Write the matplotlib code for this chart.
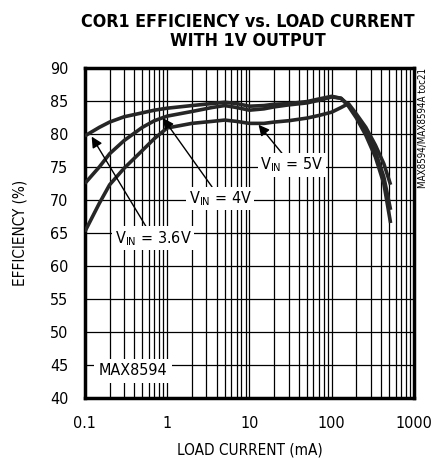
import matplotlib
matplotlib.use("Agg")
import matplotlib.pyplot as plt
from matplotlib.ticker import FixedLocator, LogLocator, NullFormatter

plt.rcParams['font.family'] = ['DejaVu Sans']
plt.rcParams['font.stretch'] = 'condensed'
plt.rcParams['mathtext.fontset'] = 'custom'
plt.rcParams['mathtext.rm'] = 'DejaVu Sans:stretch=condensed'

load_ma = [0.1, 0.15, 0.2, 0.3, 0.5, 0.7, 1, 2, 3.5, 5, 7, 10, 15, 20, 30, 50,
           70, 100, 130, 160, 200, 260, 340, 430, 520]
eff_36v = [79.7, 81.0, 81.8, 82.6, 83.2, 83.6, 83.9, 84.3, 84.6, 84.8, 84.6, 84.2,
           84.3, 84.5, 84.6, 84.9, 85.3, 85.7, 85.4, 84.2, 82.4, 79.8, 76.5, 72.5, 66.5]
eff_4v = [72.5, 75.0, 77.0, 79.0, 81.0, 82.0, 82.7, 83.4, 84.0, 84.3, 84.0, 83.6,
          83.8, 84.1, 84.4, 84.7, 85.1, 85.6, 85.4, 84.4, 82.7, 80.2, 77.3, 73.5, 68.5]
eff_5v = [65.2, 69.5, 72.3, 74.8, 77.5, 79.3, 80.9, 81.6, 81.9, 82.1, 81.9, 81.6,
          81.6, 81.8, 82.0, 82.4, 82.8, 83.3, 84.0, 84.6, 83.0, 81.0, 78.3, 75.5, 72.3]

x_ticks = [0.1, 1, 10, 100, 1000]
x_tick_labels = ['0.1', '1', '10', '100', '1000']
y_ticks = [40, 45, 50, 55, 60, 65, 70, 75, 80, 85, 90]

fig = plt.figure(figsize=(4.33, 4.59), dpi=100)
ax = fig.add_axes([0.196, 0.133, 0.760, 0.719])

line_color = '#262626'
for y in (eff_36v, eff_4v, eff_5v):
    ax.plot(load_ma, y, color=line_color, lw=2.6, solid_capstyle='butt', zorder=3)

ax.set_xscale('log')
ax.set_xlim(0.1, 1000)
ax.set_ylim(40, 90)
ax.xaxis.set_major_locator(FixedLocator(x_ticks))
ax.set_xticklabels(x_tick_labels)
ax.xaxis.set_minor_locator(LogLocator(base=10, subs=range(2, 10)))
ax.xaxis.set_minor_formatter(NullFormatter())
ax.set_yticks(y_ticks)
ax.grid(True, which='both', color='black', lw=0.9)
ax.tick_params(which='both', length=0, labelsize=11.5)
ax.tick_params(axis='y', pad=12)
ax.tick_params(axis='x', pad=13)
for s in ax.spines.values():
    s.set_linewidth(2.5)

ax.set_xlabel('LOAD CURRENT (mA)', fontsize=11, labelpad=8)
ax.set_ylabel('EFFICIENCY (%)', fontsize=11, labelpad=16)

fig.text(0.573, 0.972, 'COR1 EFFICIENCY vs. LOAD CURRENT\nWITH 1V OUTPUT',
         ha='center', va='top', fontsize=12.8, fontweight='bold', linespacing=1.1)

bbox = dict(boxstyle='square,pad=0.15', fc='white', ec='none')
arrow = dict(arrowstyle='-|>', color='black', lw=1.0, mutation_scale=16, shrinkA=0, shrinkB=0)

ax.annotate(r'V$_{\mathrm{IN}}$ = 3.6V', xy=(0.121, 79.6), xytext=(0.675, 64.2),
            ha='center', va='center', fontsize=11.5, bbox=bbox, arrowprops=arrow, zorder=5)
ax.annotate(r'V$_{\mathrm{IN}}$ = 4V', xy=(0.89, 82.4), xytext=(4.44, 70.2),
            ha='center', va='center', fontsize=11.5, bbox=bbox, arrowprops=arrow, zorder=5)
ax.annotate(r'V$_{\mathrm{IN}}$ = 5V', xy=(12.9, 81.4), xytext=(32.6, 75.3),
            ha='center', va='center', fontsize=11.5, bbox=bbox, arrowprops=arrow, zorder=5)
ax.text(0.385, 44.1, 'MAX8594', ha='center', va='center', fontsize=11.5,
        bbox=dict(boxstyle='square,pad=0.3', fc='white', ec='none'), zorder=5)

fig.text(0.977, 0.852, 'MAX8594/MAX8594A toc21', rotation=90, ha='center', va='top',
         fontsize=7)

fig.savefig('out.png', dpi=100)
